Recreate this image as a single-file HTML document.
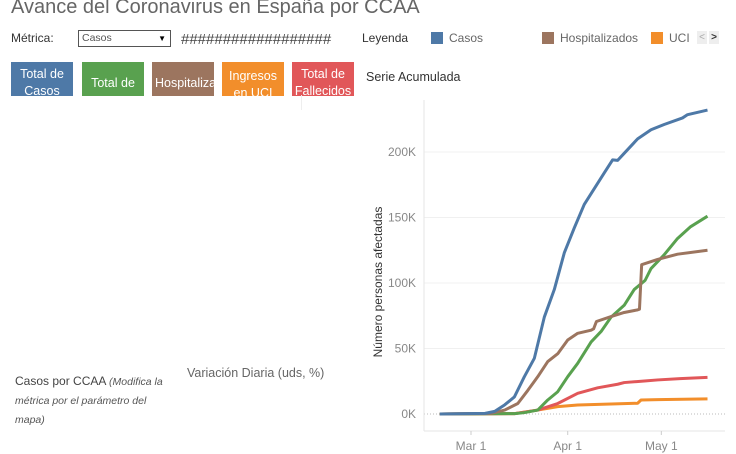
<!DOCTYPE html>
<html><head><meta charset="utf-8"><style>
body{margin:0;width:736px;height:454px;overflow:hidden;background:#fff;font-family:"Liberation Sans",sans-serif;position:relative}
.a{position:absolute;white-space:nowrap}
.btn{position:absolute;top:62px;height:34px;width:62px;color:#fff;font-size:12.5px;text-align:center;line-height:17px;overflow:hidden}
.sw{display:inline-block;width:12px;height:12px;vertical-align:-2px;margin-right:6px}
</style></head><body>
<div class="a" style="left:11px;top:-4px;font-size:20px;color:#666">Avance del Coronavirus en España por CCAA</div>
<div class="a" style="left:11px;top:31px;font-size:12px;color:#333">Métrica:</div>
<div class="a" style="left:78px;top:30px;width:88px;height:15px;border:1px solid #555;font-size:10.5px;color:#555;line-height:15px;padding-left:3px;box-sizing:content-box">Casos<span style="position:absolute;right:4px;font-size:8px;color:#000">▼</span></div>
<div class="a" style="left:181px;top:31px;font-size:15px;color:#444">##################</div>
<div class="a" style="left:362px;top:31px;font-size:12px;color:#333">Leyenda</div>
<div class="a" style="left:431px;top:31px;font-size:12px;color:#666"><span class="sw" style="background:#4e79a7"></span>Casos</div>
<div class="a" style="left:542px;top:31px;font-size:12px;color:#666"><span class="sw" style="background:#9c755f"></span>Hospitalizados</div>
<div class="a" style="left:651px;top:31px;font-size:12px;color:#666"><span class="sw" style="background:#f28e2b"></span>UCI</div>
<div class="a" style="left:697px;top:31px;width:10px;height:13px;background:#eee;font-size:10px;color:#aaa;text-align:center;line-height:13px">&lt;</div>
<div class="a" style="left:709px;top:31px;width:10px;height:13px;background:#eee;font-size:10px;color:#333;text-align:center;line-height:13px;font-weight:bold">&gt;</div>
<div class="btn" style="left:11px;background:#4e79a7;line-height:17px;padding-top:4px;height:30px">Total de<br>Casos</div>
<div class="btn" style="left:82px;background:#59a14f;line-height:34px;padding-top:4px;height:30px">Total de</div>
<div class="btn" style="left:152px;background:#9c755f;line-height:34px;padding-top:4px;height:30px;text-align:left;padding-left:3px;width:59px">Hospitalizados</div>
<div class="btn" style="left:222px;background:#f28e2b;padding-top:6px;height:28px">Ingresos<br>en UCI</div>
<div class="btn" style="left:292px;background:#e15759;padding-top:4px;height:30px">Total de<br>Fallecidos</div>
<div class="a" style="left:366px;top:70px;font-size:12.5px;color:#333">Serie Acumulada</div>
<div class="a" style="left:15px;top:372px;font-size:12px;color:#444;line-height:18px;white-space:normal;width:155px">Casos por CCAA <i style="font-size:10.5px;color:#555">(Modifica la métrica por el parámetro del mapa)</i></div>
<div class="a" style="left:187px;top:366px;font-size:12.5px;color:#666">Variación Diaria (uds, %)</div>
<div class="a" style="left:301px;top:95px;width:1px;height:15px;background:#eee"></div>
<svg id="chart" width="736" height="454" style="position:absolute;left:0;top:0"></svg>
<script>
const yTicks=[0,50,100,150,200];
const yTickLabels=["0K","50K","100K","150K","200K"];
const xTicks=[0,31,61];
const xTickLabels=["Mar 1","Apr 1","May 1"];
const casosDays=[-10,4.5,7.6,10.8,13.9,17.1,20.3,23.5,26.7,29.9,33.1,36.3,39.5,42.7,45.4,47,49.1,53.4,57.7,61.9,67.8,69.4,75.8];
const casosVals=[0,0.5,2,7,13,28.5,42.5,74,95,123,142,160,172,184,194,193.6,199,210,217,221,226,228.5,232];
const hospDays=[-10,6.6,10.8,15,18.2,21.4,24.6,27.8,31,34.2,38.5,39.3,40.2,44.9,49.1,53.4,54,54.7,59.8,66.2,75.8];
const hospVals=[0,0.5,3,8,18,28.5,40,46,56.5,61.6,64,65,70.6,74.4,77.5,79.5,80,114,118,122,125];
const curadosDays=[-10,14,17,21.4,24.6,27.8,31,34.2,38.5,41.7,44.9,49.1,52.3,55.8,57.7,61.9,66.2,70.4,75.8];
const curadosVals=[0,0.3,1,3,10.7,17,28.5,38.7,55,63,74,83,95,102,111,121.5,134,143,151];
const fallDays=[-10,14,21.4,27.8,34.2,40.6,47,49.1,55.6,59.8,67,75.8];
const fallVals=[0,0.3,3,8,15.8,20,22.7,24,25.2,26,27,28];
const uciDays=[-10,14,21.4,27.8,34.2,44.9,53.4,54.5,60,75.8];
const uciVals=[0,0.3,3,5.6,6.9,7.6,8.2,10.7,11,11.5];
const NS="http://www.w3.org/2000/svg";
const svg=document.getElementById('chart');
const x=d=>471+d*3.12;
const y=v=>414-v*1.31;
function mk(t,a){const e=document.createElementNS(NS,t);for(const k in a)e.setAttribute(k,a[k]);svg.appendChild(e);return e;}
yTicks.forEach((t,i)=>{
  if(t>0){const g=mk('line',{x1:424,x2:725,y1:y(t),y2:y(t),stroke:'#f0f0f0'});
  
  }
  const l=mk('text',{x:416,y:y(t)+4,'text-anchor':'end','font-size':12,fill:'#888','font-family':'Liberation Sans'});
  l.textContent=yTickLabels[i];
  
  
});
const z=mk('line',{x1:424,x2:725,y1:y(0),y2:y(0),stroke:'#bbb','stroke-dasharray':'1,2'});


const ax=mk('line',{x1:424,x2:725,y1:431,y2:431,stroke:'#e6e6e6'});


const ay=mk('line',{x1:424,x2:424,y1:100,y2:431,stroke:'#e6e6e6'});


xTicks.forEach((t,i)=>{
  const tk=mk('line',{x1:x(t),x2:x(t),y1:431,y2:435,stroke:'#ccc'});
  
  
  const l=mk('text',{x:x(t),y:450,'text-anchor':'middle','font-size':12,fill:'#888','font-family':'Liberation Sans'});
  l.textContent=xTickLabels[i];
  
  
});
const yt=mk('text',{transform:'translate(382,282) rotate(-90)','text-anchor':'middle','font-size':12,fill:'#333','font-family':'Liberation Sans'});
yt.textContent='Número personas afectadas';


function line(ds,vs,c,n){
  const p=mk('polyline',{points:ds.map((d,i)=>x(d)+','+y(vs[i])).join(' '),fill:'none',stroke:c,'stroke-width':3,'stroke-linejoin':'round'});
  
  
}
line(uciDays,uciVals,'#f28e2b','uci-line');
line(fallDays,fallVals,'#e15759','fallecidos-line');
line(curadosDays,curadosVals,'#59a14f','curados-line');
line(hospDays,hospVals,'#9c755f','hospitalizados-line');
line(casosDays,casosVals,'#4e79a7','casos-line');
</script>
</body></html>
